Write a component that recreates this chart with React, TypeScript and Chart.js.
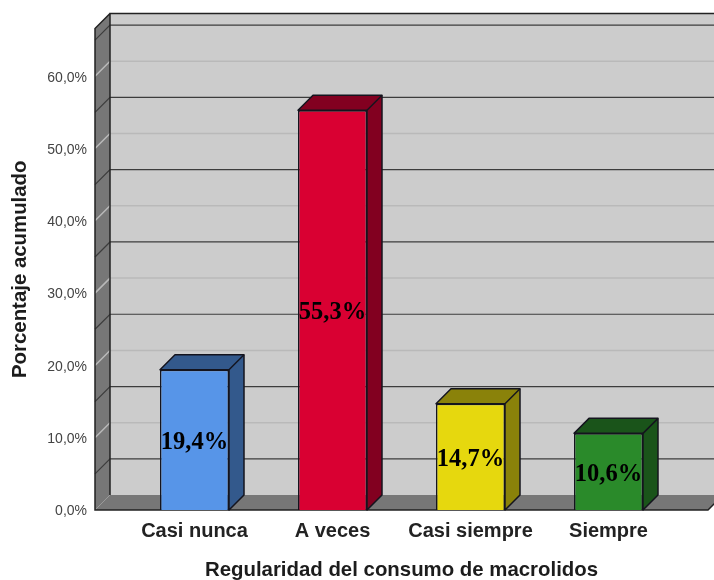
import React, { useEffect, useRef } from "react";
import { Chart, registerables } from "chart.js";

Chart.register(...registerables);

const categories = ["Casi nunca", "A veces", "Casi siempre", "Siempre"];
const values = [19.4, 55.3, 14.7, 10.6];
const valueLabels = ["19,4%", "55,3%", "14,7%", "10,6%"];
const labeledTicks = [0, 10, 20, 30, 40, 50, 60];
const minorLines = [5, 15, 25, 35, 45, 55, 65];

const frontColors = ["#5795e8", "#d90032", "#e6d80e", "#2a8a2a"];
const shadeColors = ["#33598c", "#820020", "#8a820a", "#1a541a"];

const DEPTH = 15;
const LEFT = 95;
const RIGHT = 708;

const scene = {
  id: "scene",
  afterLayout(chart: any) {
    const y = chart.scales.y;
    const drawLabels = y.drawLabels.bind(y);
    y.drawLabels = (area: any) => {
      chart.ctx.save();
      chart.ctx.translate(0, 1.5);
      drawLabels(area);
      chart.ctx.restore();
    };
  },
  beforeDatasetsDraw(chart: any) {
    const { ctx, chartArea, scales } = chart;
    const y = scales.y;
    const bottom = chartArea.bottom;
    const top = chartArea.top;
    ctx.save();
    // back wall
    ctx.fillStyle = "#cccccc";
    ctx.fillRect(LEFT + DEPTH, top - DEPTH, RIGHT - LEFT, bottom - top);
    // left wall
    ctx.fillStyle = "#777777";
    ctx.beginPath();
    ctx.moveTo(LEFT, bottom);
    ctx.lineTo(LEFT, top);
    ctx.lineTo(LEFT + DEPTH, top - DEPTH);
    ctx.lineTo(LEFT + DEPTH, bottom - DEPTH);
    ctx.closePath();
    ctx.fill();
    // floor
    ctx.beginPath();
    ctx.moveTo(LEFT, bottom);
    ctx.lineTo(RIGHT, bottom);
    ctx.lineTo(RIGHT + DEPTH, bottom - DEPTH);
    ctx.lineTo(LEFT + DEPTH, bottom - DEPTH);
    ctx.closePath();
    ctx.fill();

    const gridLine = (v: number, color: string, w: number) => {
      const py = y.getPixelForValue(v);
      ctx.strokeStyle = color;
      ctx.lineWidth = w;
      ctx.beginPath();
      ctx.moveTo(LEFT, py);
      ctx.lineTo(LEFT + DEPTH, py - DEPTH);
      ctx.lineTo(RIGHT + DEPTH, py - DEPTH);
      ctx.stroke();
    };
    labeledTicks.filter((v) => v > 0).forEach((v) => gridLine(v, "#b9b9b9", 1.5));
    minorLines.forEach((v) => gridLine(v, "#3c3c3c", 1.2));

    // light corner at the floor
    ctx.strokeStyle = "#9a9a9a";
    ctx.lineWidth = 1;
    ctx.beginPath();
    ctx.moveTo(LEFT, bottom);
    ctx.lineTo(LEFT + DEPTH, bottom - DEPTH);
    ctx.stroke();

    // frame
    ctx.strokeStyle = "#222222";
    ctx.lineWidth = 1.5;
    ctx.beginPath();
    ctx.moveTo(LEFT + DEPTH, bottom - DEPTH);
    ctx.lineTo(LEFT + DEPTH, top - DEPTH);
    ctx.lineTo(RIGHT + DEPTH, top - DEPTH);
    ctx.moveTo(LEFT + DEPTH, top - DEPTH);
    ctx.lineTo(LEFT, top);
    ctx.lineTo(LEFT, bottom);
    ctx.lineTo(RIGHT, bottom);
    ctx.lineTo(RIGHT + DEPTH, bottom - DEPTH);
    ctx.stroke();

    // bar depth faces
    chart.getDatasetMeta(0).data.forEach((bar: any, i: number) => {
      const l = bar.x - bar.width / 2;
      const r = bar.x + bar.width / 2;
      const t = bar.y;
      const b = bar.base;
      ctx.fillStyle = shadeColors[i];
      ctx.strokeStyle = "#14141e";
      ctx.lineWidth = 1.5;
      ctx.lineJoin = "round";
      ctx.beginPath();
      ctx.moveTo(l, t);
      ctx.lineTo(l + DEPTH, t - DEPTH);
      ctx.lineTo(r + DEPTH, t - DEPTH);
      ctx.lineTo(r + DEPTH, b - DEPTH);
      ctx.lineTo(r, b);
      ctx.lineTo(r, t);
      ctx.closePath();
      ctx.fill();
      ctx.stroke();
      ctx.beginPath();
      ctx.moveTo(r, t);
      ctx.lineTo(r + DEPTH, t - DEPTH);
      ctx.stroke();
    });
    ctx.restore();
  },
  afterDatasetsDraw(chart: any) {
    const { ctx } = chart;
    ctx.save();
    ctx.font = "bold 24.5px 'Liberation Serif'";
    ctx.textAlign = "center";
    ctx.textBaseline = "middle";
    ctx.fillStyle = "#000000";
    chart.getDatasetMeta(0).data.forEach((bar: any, i: number) => {
      const cp = bar.getCenterPoint();
      ctx.fillText(valueLabels[i], cp.x, cp.y + 2.5);
    });
    ctx.restore();
  },
};

export default function App() {
  const ref = useRef<HTMLCanvasElement>(null);
  useEffect(() => {
    const chart = new Chart(ref.current as HTMLCanvasElement, {
      type: "bar",
      data: {
        labels: categories,
        datasets: [
          {
            data: values,
            backgroundColor: frontColors,
            borderColor: "#14141e",
            borderWidth: 1.5,
            categoryPercentage: 1,
            barPercentage: 0.5,
            clip: false,
          } as any,
        ],
      },
      options: {
        animation: false,
        responsive: false,
        devicePixelRatio: 1,
        layout: { padding: { top: 28.5, right: 36.5, left: 0, bottom: 0 } },
        plugins: { legend: { display: false }, tooltip: { enabled: false } },
        scales: {
          x: {
            afterFit: (s: any) => {
              s.height = 70;
              s.paddingLeft = 0;
              s.paddingRight = 0;
            },
            grid: { display: false, drawTicks: false },
            border: { display: false },
            ticks: {
              padding: 9,
              color: "#222222",
              font: { family: "'Liberation Sans'", size: 20, weight: "bold" },
              maxRotation: 0,
            },
            title: {
              display: true,
              text: "Regularidad del consumo de macrolidos",
              color: "#1c1c1c",
              font: { family: "'Liberation Sans'", size: 20.4, weight: "bold", lineHeight: 1 },
              padding: { top: 0, bottom: -1 },
            },
          },
          y: {
            min: 0,
            max: 66.6,
            afterFit: (s: any) => {
              s.width = 125.5;
              s.paddingTop = 0;
              s.paddingBottom = 0;
            },
            grid: { display: false, drawTicks: false },
            border: { display: false },
            ticks: {
              stepSize: 10,
              includeBounds: false,
              padding: 38.5,
              color: "#444444",
              font: { family: "'Liberation Sans'", size: 14 },
              callback: (v: any) => `${Number(v).toFixed(1).replace(".", ",")}%`,
            },
            title: {
              display: true,
              text: "Porcentaje acumulado",
              color: "#1c1c1c",
              font: { family: "'Liberation Sans'", size: 20.4, weight: "bold" },
              padding: { top: 8, bottom: 0 },
            },
          },
        },
      },
      plugins: [scene],
    } as any);
    return () => chart.destroy();
  }, []);
  return (
    <div style={{ position: "absolute", left: 0, top: 0, width: 714, height: 580, background: "#ffffff" }}>
      <canvas ref={ref} width={714} height={580} style={{ display: "block" }} />
    </div>
  );
}
